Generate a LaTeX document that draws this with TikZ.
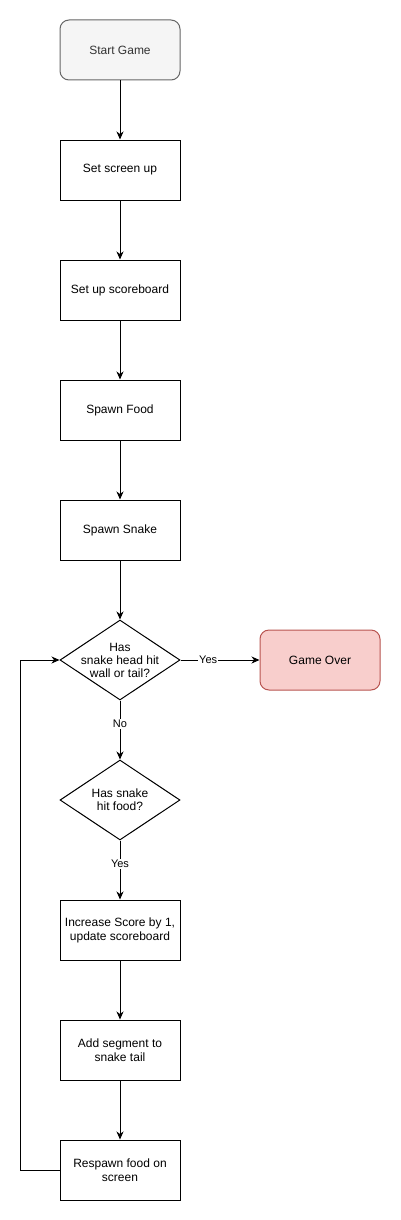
\documentclass[tikz,border=0pt]{standalone}
\usepackage{fontspec}
\setmainfont{Liberation Sans}
\usetikzlibrary{shapes.geometric,arrows.meta}
\definecolor{startfill}{HTML}{F5F5F5}
\definecolor{startdraw}{HTML}{666666}
\definecolor{starttext}{HTML}{333333}
\definecolor{overfill}{HTML}{F8CECC}
\definecolor{overdraw}{HTML}{B85450}
\begin{document}
\begin{tikzpicture}[x=1pt,y=-1pt,
  every node/.style={font=\fontsize{12}{14}\selectfont},
  procbox/.style={draw,line width=1pt,minimum width=120pt,minimum height=60pt,align=center,inner sep=2pt},
  startbox/.style={procbox,rounded corners=9pt,fill=startfill,draw=startdraw,text=starttext},
  overbox/.style={procbox,rounded corners=9pt,fill=overfill,draw=overdraw},
  decision/.style={draw,line width=1pt,diamond,aspect=1.5,minimum width=120pt,minimum height=80pt,inner sep=0pt},
  dtext/.style={align=center},
  conn/.style={line width=1pt,-{Stealth[length=8pt,width=7pt,inset=2.5pt]}},
  lbl/.style={fill=white,inner sep=1pt,font=\fontsize{11}{13}\selectfont}
]
\useasboundingbox (0,0) rectangle (400,1220);
\node[startbox] (start) at (120,50) {Start Game};
\node[procbox] (screen) at (120,170) {Set screen up};
\node[procbox] (score) at (120,290) {Set up scoreboard};
\node[procbox] (food) at (120,410) {Spawn Food};
\node[procbox] (snake) at (120,530) {Spawn Snake};
\node[decision] (hit) at (120,660) {};
\node[dtext] (hittext) at (120,660) {Has\\[-1pt]snake head hit\\[-1pt]wall or tail?};
\node[overbox] (over) at (320,660) {Game Over};
\node[decision] (eat) at (120,800) {};
\node[dtext] (eattext) at (120,800) {Has snake\\[-1pt]hit food?};
\node[procbox] (inc) at (120,930) {Increase Score by 1,\\update scoreboard};
\node[procbox] (seg) at (120,1050) {Add segment to\\snake tail};
\node[procbox] (resp) at (120,1170) {Respawn food on\\screen};
\coordinate (lb) at (20,1170);
\coordinate (lt) at (20,660);
\draw[conn] (start) -- (screen);
\draw[conn] (screen) -- (score);
\draw[conn] (score) -- (food);
\draw[conn] (food) -- (snake);
\draw[conn] (snake) -- (hit.north);
\draw[conn] (hit.east) -- node[lbl,pos=0.35] {Yes} (over.west);
\draw[conn] (hit.south) -- node[lbl,pos=0.4] {No} (eat.north);
\draw[conn] (eat.south) -- node[lbl,pos=0.4] {Yes} (inc.north);
\draw[conn] (inc) -- (seg);
\draw[conn] (seg) -- (resp);
\draw[conn] (resp.west) -- (lb) -- (lt) -- (hit.west);
\end{tikzpicture}
\end{document}
